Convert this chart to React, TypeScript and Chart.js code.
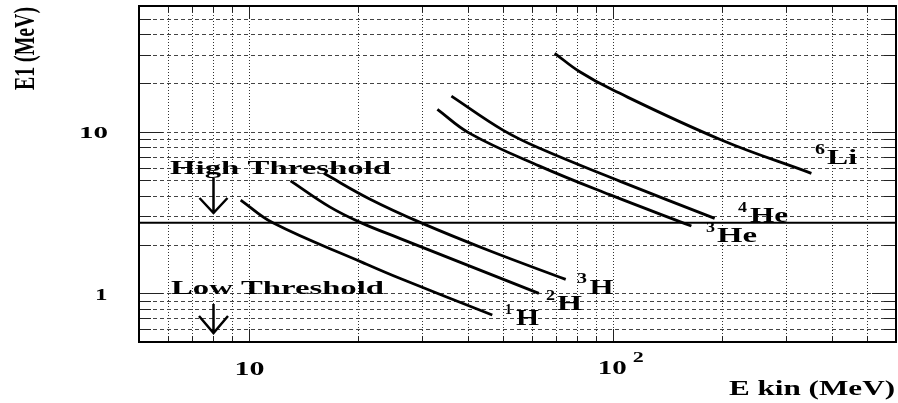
import React, { useEffect, useRef } from "react";
import { Chart, registerables } from "chart.js";

Chart.register(...registerables);

// ---- axis ranges / grid values ----
const xRange = [5, 600];
const yRange = [0.5, 60];
const xGridValues = [6, 7, 8, 9, 10, 20, 30, 40, 50, 60, 70, 80, 90, 100, 200, 300, 400, 500];
const yGridValues = [0.6, 0.7, 0.8, 0.9, 1, 2, 3, 4, 5, 6, 7, 8, 9, 10, 20, 30, 40, 50];
const xMajorValues = [10, 100];
const yMajorValues = [1, 10];

// ---- curves: E kin (MeV) vs E1 (MeV) ----
const h1Ekin = [9.51, 11.66, 20.6, 26.0, 46.7];
const h1E1 = [3.78, 2.73, 1.55, 1.24, 0.734];

const h2Ekin = [13.04, 16.7, 20.4, 26.0, 62.7];
const h2E1 = [4.97, 3.43, 2.73, 2.19, 1.0];

const h3Ekin = [16.1, 21.5, 29.8, 45.9, 74.3];
const h3E1 = [5.53, 3.84, 2.73, 1.835, 1.22];

const he3Ekin = [33.0, 40.5, 63.0, 98.1, 164.5];
const he3E1 = [13.76, 9.77, 6.13, 4.08, 2.61];

const he4Ekin = [36.06, 49.96, 63.0, 104.5, 190.6];
const he4E1 = [16.63, 10.24, 7.9, 4.95, 2.91];

const li6Ekin = [69.3, 81.2, 100.2, 198.9, 351.4];
const li6E1 = [30.6, 23.5, 18.1, 8.89, 5.53];

const thresholdEkin = [5, 600];
const thresholdE1 = [2.73, 2.73];

const arrowEkin = 8;

const FONT = '"Liberation Serif", "Times New Roman", serif';

function pts(xs: number[], ys: number[]) {
  return xs.map((x, i) => ({ x, y: ys[i] }));
}

function stretchText(
  ctx: CanvasRenderingContext2D,
  text: string,
  x: number,
  y: number,
  size: number,
  width: number,
  align: "left" | "center" | "right" = "left"
) {
  ctx.save();
  ctx.font = `bold ${size}px ${FONT}`;
  ctx.textAlign = "left";
  ctx.textBaseline = "alphabetic";
  ctx.fillStyle = "#000";
  const w = ctx.measureText(text).width;
  const sx = width / w;
  const startX = align === "left" ? x : align === "center" ? x - width / 2 : x - width;
  ctx.translate(startX, y);
  ctx.scale(sx, 1);
  ctx.fillText(text, 0, 0);
  ctx.restore();
}

function drawArrow(ctx: CanvasRenderingContext2D, x: number, y0: number, y1: number, wingY: number, half: number) {
  ctx.save();
  ctx.strokeStyle = "#000";
  ctx.lineWidth = 2.5;
  ctx.lineCap = "butt";
  ctx.beginPath();
  ctx.moveTo(x, y0);
  ctx.lineTo(x, y1);
  ctx.moveTo(x - half, wingY);
  ctx.lineTo(x, y1);
  ctx.lineTo(x + half, wingY);
  ctx.stroke();
  ctx.restore();
}

const rootStylePlugin = {
  id: "rootStyle",
  beforeDatasetsDraw(chart: any) {
    const { ctx, chartArea: a, scales } = chart;
    const xs = scales.x;
    const ys = scales.y;
    ctx.save();
    ctx.lineWidth = 1;
    ctx.strokeStyle = "#333";
    ctx.setLineDash([1, 2]);
    xGridValues.forEach((v) => {
      const px = Math.round(xs.getPixelForValue(v)) + 0.5;
      ctx.beginPath();
      ctx.moveTo(px, a.top);
      ctx.lineTo(px, a.bottom);
      ctx.stroke();
    });
    ctx.strokeStyle = "#444";
    ctx.setLineDash([4, 3]);
    yGridValues.forEach((v) => {
      const py = Math.round(ys.getPixelForValue(v)) + 0.5;
      ctx.beginPath();
      ctx.moveTo(a.left, py);
      ctx.lineTo(a.right, py);
      ctx.stroke();
    });
    ctx.restore();
  },
  afterDatasetsDraw(chart: any) {
    const { ctx, chartArea: a, scales } = chart;
    const xs = scales.x;
    const ys = scales.y;
    ctx.save();
    // tick marks
    ctx.strokeStyle = "#222";
    ctx.lineWidth = 1;
    ctx.setLineDash([]);
    yGridValues.forEach((v) => {
      const py = Math.round(ys.getPixelForValue(v)) + 0.5;
      const len = yMajorValues.includes(v) ? 24 : 12;
      ctx.beginPath();
      ctx.moveTo(a.left, py);
      ctx.lineTo(a.left + len, py);
      ctx.moveTo(a.right - len, py);
      ctx.lineTo(a.right, py);
      ctx.stroke();
    });
    xGridValues.forEach((v) => {
      const px = Math.round(xs.getPixelForValue(v)) + 0.5;
      const len = xMajorValues.includes(v) ? 13 : 6;
      ctx.beginPath();
      ctx.moveTo(px, a.top);
      ctx.lineTo(px, a.top + len);
      ctx.moveTo(px, a.bottom - len);
      ctx.lineTo(px, a.bottom);
      ctx.stroke();
    });
    // frame
    ctx.strokeStyle = "#000";
    ctx.lineWidth = 2;
    ctx.strokeRect(a.left, a.top, a.right - a.left, a.bottom - a.top);
    ctx.restore();

    // axis tick labels
    const y10 = ys.getPixelForValue(10);
    const y1 = ys.getPixelForValue(1);
    stretchText(ctx, "10", 108, y10 + 6.5, 17, 29, "right");
    stretchText(ctx, "1", 107.5, y1 + 7, 17, 12.5, "right");
    const x10 = xs.getPixelForValue(10);
    const x100 = xs.getPixelForValue(100);
    stretchText(ctx, "10", x10 + 1, 375, 18, 30, "center");
    stretchText(ctx, "10", x100 - 15, 374, 18, 29, "left");
    stretchText(ctx, "2", x100 + 20, 361.5, 15, 11, "left");

    // axis titles
    stretchText(ctx, "E kin (MeV)", 895, 395, 20, 166, "right");
    ctx.save();
    ctx.translate(34, 90);
    ctx.rotate(-Math.PI / 2);
    stretchText(ctx, "E1 (MeV)", 0, 0, 30, 83, "left");
    ctx.restore();

    // threshold labels and arrows
    stretchText(ctx, "High Threshold", 170, 174, 19.5, 221, "left");
    stretchText(ctx, "Low Threshold", 171, 294, 19, 213, "left");
    const ax = Math.round(xs.getPixelForValue(arrowEkin)) + 0.5;
    drawArrow(ctx, ax, 178, 213, 198, 14);
    drawArrow(ctx, ax, 304, 333, 316, 14.5);

    // isotope labels
    stretchText(ctx, "1", 505, 314, 15, 7, "left");
    stretchText(ctx, "H", 516, 324.5, 23, 23, "left");
    stretchText(ctx, "2", 546, 300, 15, 9, "left");
    stretchText(ctx, "H", 557, 310, 22, 25, "left");
    stretchText(ctx, "3", 577, 283, 15, 10, "left");
    stretchText(ctx, "H", 589.5, 293.5, 22, 24, "left");
    stretchText(ctx, "3", 706, 232, 15, 9, "left");
    stretchText(ctx, "He", 717, 242, 21, 40, "left");
    stretchText(ctx, "4", 738, 212, 15, 9, "left");
    stretchText(ctx, "He", 750, 222, 21, 38, "left");
    stretchText(ctx, "6", 815, 153.5, 15, 10, "left");
    stretchText(ctx, "Li", 827, 163.5, 22, 30, "left");
  },
};

export default function App() {
  const canvasRef = useRef<HTMLCanvasElement | null>(null);

  useEffect(() => {
    if (!canvasRef.current) return;
    const curve = (xs: number[], ys: number[], width = 2.8, tension = 0.4) => ({
      data: pts(xs, ys),
      showLine: true,
      borderColor: "#000",
      backgroundColor: "#000",
      borderWidth: width,
      pointRadius: 0,
      tension,
      fill: false,
    });
    const chart = new Chart(canvasRef.current, {
      type: "scatter",
      data: {
        datasets: [
          curve(thresholdEkin, thresholdE1, 2, 0),
          curve(h1Ekin, h1E1),
          curve(h2Ekin, h2E1),
          curve(h3Ekin, h3E1),
          curve(he3Ekin, he3E1),
          curve(he4Ekin, he4E1),
          curve(li6Ekin, li6E1),
        ],
      },
      options: {
        animation: false,
        responsive: false,
        devicePixelRatio: 1,
        layout: { padding: { left: 139, right: 2, top: 6, bottom: 61 } },
        plugins: { legend: { display: false }, tooltip: { enabled: false } },
        events: [],
        scales: {
          x: { type: "logarithmic", min: xRange[0], max: xRange[1], display: false },
          y: { type: "logarithmic", min: yRange[0], max: yRange[1], display: false },
        },
      },
      plugins: [rootStylePlugin],
    });
    return () => chart.destroy();
  }, []);

  return (
    <div style={{ position: "absolute", left: 0, top: 0, width: 898, height: 403, background: "#fff" }}>
      <canvas ref={canvasRef} width={898} height={403} style={{ width: 898, height: 403 }} />
    </div>
  );
}
